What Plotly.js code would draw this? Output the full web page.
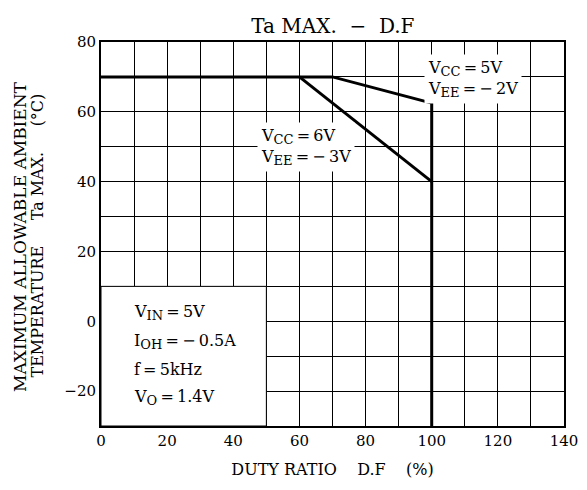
<!DOCTYPE html>
<html><head><meta charset="utf-8">
<script src="https://cdn.plot.ly/plotly-3.0.1.min.js"></script>
<style>body{margin:0;background:#fff}</style>
</head><body><div id="chart" style="width:587px;height:490px"></div>
<script>
const x5 = [0, 70, 100, 100];
const y5 = [70, 70, 62.5, -30];
const x6 = [60, 100];
const y6 = [70, 40];
const xTicks = [0, 20, 40, 60, 80, 100, 120, 140];
const yTicks = [-20, 0, 20, 40, 60, 80];
const sb = s => '<sub><span style="font-size:13px">' + s + '</span></sub>';
const label5 = 'V' + sb('CC') + '\u2009=\u20095V<br>V' + sb('EE') + '\u2009=\u2009−\u20092V';
const label6 = 'V' + sb('CC') + '\u2009=\u20096V<br>V' + sb('EE') + '\u2009=\u2009−\u20093V';
const condLines = ['V' + sb('IN') + '\u2009=\u20095V', 'I' + sb('OH') + '\u2009=\u2009−\u20090.5A', 'f\u2009=\u20095kHz', 'V' + sb('O') + '\u2009=\u20091.4V'];
const condY = [2.5, -5.8, -13.7, -21.7];

const serif = 'DejaVu Serif, Liberation Serif, serif';
const lineStyle = {color: '#000', width: 3};
const traces = [
  {x: x5, y: y5, mode: 'lines', line: lineStyle, hoverinfo: 'skip'},
  {x: x6, y: y6, mode: 'lines', line: lineStyle, hoverinfo: 'skip'}
];
const axisCommon = {
  showgrid: true, gridcolor: '#000', gridwidth: 1,
  showline: true, linecolor: '#000', linewidth: 2, mirror: true,
  ticks: '', zeroline: false,
  tickfont: {family: serif, size: 15, color: '#000'},
  minor: {dtick: 10, showgrid: true, gridcolor: '#000', gridwidth: 1}
};
const layout = {
  width: 587, height: 490,
  margin: {l: 101, r: 23, t: 42, b: 64},
  paper_bgcolor: '#fff', plot_bgcolor: '#fff',
  showlegend: false,
  title: {text: 'Ta MAX.  −  D.F', font: {family: serif, size: 20, color: '#000'}, x: 0.567, xanchor: 'center', y: 0.947, yanchor: 'middle'},
  xaxis: Object.assign({}, axisCommon, {range: [0, 140], tickvals: xTicks, tickmode: 'array',
    title: {text: 'DUTY RATIO    D.F    (%)', font: {family: serif, size: 16, color: '#000'}, standoff: 15}}),
  yaxis: Object.assign({}, axisCommon, {range: [-30, 80], tickvals: yTicks, tickmode: 'array'}),
  shapes: [
    {type: 'rect', xref: 'x', yref: 'y', x0: 0, x1: 50, y0: -30, y1: 10, fillcolor: '#fff', line: {color: '#000', width: 1}, layer: 'between'}
  ],
  annotations: [
    {xref: 'paper', yref: 'paper', x: -0.175, y: 0.495, textangle: -90, showarrow: false,
     text: 'MAXIMUM ALLOWABLE AMBIENT', font: {family: serif, size: 17, color: '#000'}, xanchor: 'center', yanchor: 'middle'},
    {xref: 'paper', yref: 'paper', x: -0.137, y: 0.495, textangle: -90, showarrow: false,
     text: 'TEMPERATURE     Ta MAX.     (°C)', font: {family: serif, size: 16, color: '#000'}, xanchor: 'center', yanchor: 'middle'},
    {xref: 'x', yref: 'y', x: 112.5, y: 69.3, text: label5, showarrow: false, bgcolor: '#fff', borderpad: 3,
     font: {family: serif, size: 16, color: '#000'}, align: 'left', xanchor: 'center', yanchor: 'middle'},
    {xref: 'x', yref: 'y', x: 62, y: 50, text: label6, showarrow: false, bgcolor: '#fff', borderpad: 3,
     font: {family: serif, size: 16, color: '#000'}, align: 'left', xanchor: 'center', yanchor: 'middle'}
  ].concat(condLines.map((t, i) => ({xref: 'x', yref: 'y', x: 9.5, y: condY[i], text: t, showarrow: false,
     font: {family: serif, size: 16, color: '#000'}, xanchor: 'left', yanchor: 'middle'})))
};
Plotly.newPlot('chart', traces, layout, {staticPlot: true, displayModeBar: false});
</script></body></html>
